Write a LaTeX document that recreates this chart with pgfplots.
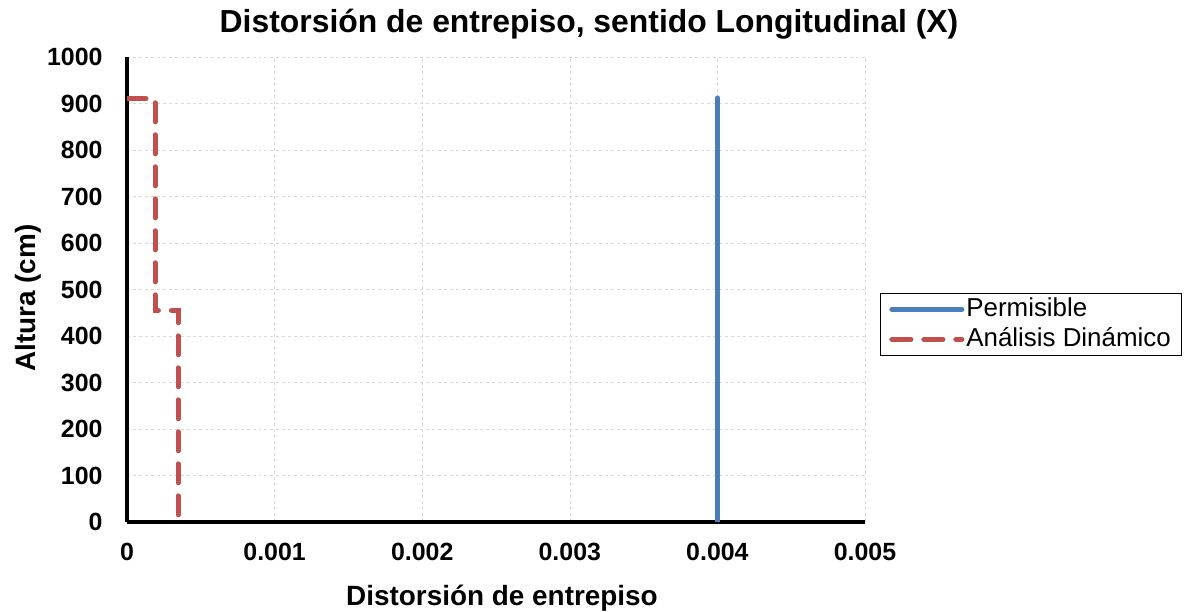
\documentclass[border=0pt]{standalone}
\usepackage{pgfplots}
\pgfplotsset{compat=1.18}
\usepackage{fontspec}
\setmainfont{Liberation Sans}
\definecolor{pblue}{RGB}{74,126,187}
\definecolor{pred}{RGB}{192,80,77}
\begin{document}
\begin{tikzpicture}
\useasboundingbox (0,0) rectangle (1187bp,612bp);
\begin{axis}[
  at={(127bp,90bp)}, anchor=south west,
  scale only axis, width=738bp, height=465bp,
  xmin=0, xmax=0.005, ymin=0, ymax=1000,
  scaled x ticks=false, scaled y ticks=false,
  xtick={0,0.001,0.002,0.003,0.004,0.005},
  xticklabels={0,0.001,0.002,0.003,0.004,0.005},
  ytick={0,100,...,1000},
  yticklabels={0,100,200,300,400,500,600,700,800,900,1000},
  axis x line*=bottom, axis y line*=left,
  axis line style={line width=4bp, black, -},
  tick style={draw=none},
  grid=major,
  major grid style={gray!30, dashed, line width=0.6bp},
  ticklabel style={font=\fontsize{25}{28}\selectfont\bfseries},
  /pgf/number format/assume math mode=true,
  xticklabel style={yshift=-18bp},
  yticklabel style={xshift=-21bp},
  legend style={at={(1.0203,0.4925)}, anchor=north west, draw=black, line width=0.8bp,
    font=\fontsize{26}{28}\selectfont, cells={anchor=west}, inner xsep=9bp, inner ysep=1bp, row sep=0bp,
    nodes={inner sep=2bp, text height=20bp, text depth=6bp}},
  legend image code/.code={\draw[#1] (0bp,0bp) -- (70bp,0bp);},
]
\addplot[pblue, line width=5bp, line cap=round] coordinates {(0.004,0) (0.004,912)};
\addlegendentry{Permisible}
\addplot[pred, line width=5bp, line cap=round, dash pattern=on 19bp off 13bp] coordinates {
(0,910) (0.00019,910) (0.00019,455) (0.000346,455) (0.000346,0)};
\addlegendentry{Análisis Dinámico}
\end{axis}
\node[anchor=base] at (589bp,579bp) {\fontsize{32}{36}\selectfont\bfseries Distorsión de entrepiso, sentido Longitudinal (X)};
\node[anchor=base] at (502bp,7bp) {\fontsize{28}{32}\selectfont\bfseries Distorsión de entrepiso};
\node[rotate=90, anchor=base] at (35bp,314bp) {\fontsize{28}{32}\selectfont\bfseries Altura (cm)};
\end{tikzpicture}
\end{document}
